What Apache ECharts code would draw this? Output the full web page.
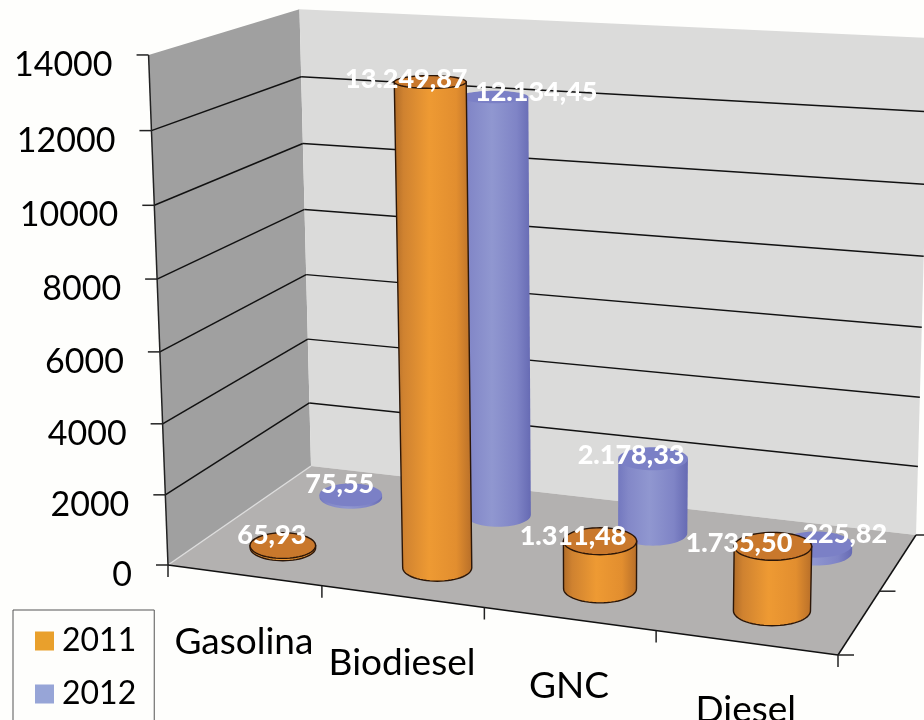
<!DOCTYPE html>
<html><head><meta charset="utf-8">
<style>html,body{margin:0;padding:0;background:#fefefc;overflow:hidden}#c{width:924px;height:720px}</style>
<script src="https://cdn.jsdelivr.net/npm/echarts@6/dist/echarts.min.js"></script>
</head><body><div id="c"></div>
<script>
const categories = ['Gasolina','Biodiesel','GNC','Diesel'];
const values2011 = [65.93, 13249.87, 1311.48, 1735.50];
const values2012 = [75.55, 12134.45, 2178.33, 225.82];
const yTicks = [0,2000,4000,6000,8000,10000,12000,14000];
const yMax = 14000;

// styling / camera
const FONT='Lato';
const floorQuad=[[168,565],[838,655],[916,535],[311,466]]; // front-left, front-right, back-right, back-left
const vp=[600,11900], kv=-0.04306;
const RU=0.218, RV=0.12, UOFF=0.012;
const shift2011=[[-11,-10],[-24,-3],[-27,-5],[-34,-3]];
const shift2012=[[-11,-11],[42,-5],[-22,-3],[29,-10]];

const chart=echarts.init(document.getElementById('c'),null,{renderer:'canvas'});
const W=924,H=720;
function homog(){
  const [p0,p1,p2,p3]=floorQuad;
  const dx1=p1[0]-p2[0],dx2=p3[0]-p2[0],sx=p0[0]-p1[0]+p2[0]-p3[0];
  const dy1=p1[1]-p2[1],dy2=p3[1]-p2[1],sy=p0[1]-p1[1]+p2[1]-p3[1];
  const den=dx1*dy2-dx2*dy1;
  const g=(sx*dy2-dx2*sy)/den,h=(dx1*sy-sx*dy1)/den;
  return {a:p1[0]-p0[0]+g*p1[0],b:p3[0]-p0[0]+h*p3[0],c:p0[0],
          d:p1[1]-p0[1]+g*p1[1],e:p3[1]-p0[1]+h*p3[1],f:p0[1],g,h};
}
const M=homog();
// u: category position (0..n), v: depth (0..1), t: 0..1 height fraction taken from the value axis
function project(u,v,t0){
  const s=u/categories.length;
  const t=t0*(1-0.012*s*v);
  const x=M.a*s+M.b*v+M.c+t*kv*vp[0];
  const y=M.d*s+M.e*v+M.f+t*kv*vp[1];
  const w=M.g*s+M.h*v+1+t*kv;
  return [x/w,y/w];
}
function heightOf(api,val){return 1-api.coord([0,val])[1]/H;}
function line(a,b,color,width){return {type:'line',shape:{x1:a[0],y1:a[1],x2:b[0],y2:b[1]},style:{stroke:color,lineWidth:width}};}
function poly(points,fill,extra){return Object.assign({type:'polygon',shape:{points},style:{fill}},extra||{});}

function renderFrame(params,api){
  const n=categories.length,ch=[];
  const tt=heightOf(api,yMax);
  const fl=project(0,0,0),fr=project(n,0,0),br=project(n,1,0),bl=project(0,1,0);
  const flt=project(0,0,tt),brt=project(n,1,tt),blt=project(0,1,tt);
  ch.push(poly([fl,bl,blt,flt],'#a0a0a0'));
  ch.push(poly([bl,br,brt,blt],'#dbdbda'));
  ch.push(poly([fl,fr,br,bl],'#b3b1b0'));
  ch.push(line(fl,bl,'#dcdcdc',1.5));
  yTicks.forEach(v=>{
    const t=heightOf(api,v);
    const a=project(0,0,t),b=project(0,1,t),c=project(n,1,t);
    if(v>0&&v<yMax){ch.push(line(a,b,'#111',1.5));ch.push(line(b,c,'#111',1.5));}
    ch.push(line([a[0]-12,a[1]],a,'#222',1.5));
    ch.push({type:'text',style:{text:String(v),x:a[0]-36,y:a[1]+10,align:'right',verticalAlign:'middle',
      fontFamily:FONT,fontSize:34,fill:'#000'}});
  });
  ch.push(line(fl,flt,'#222',1.5));
  ch.push(line(fl,fr,'#111',1.5));
  ch.push(line(fr,br,'#111',1.5));
  for(let i=0;i<=n;i++){const p=project(i,0,0);ch.push(line(p,[p[0],p[1]+12],'#222',1.5));}
  [0,0.5,1].forEach(v=>{const p=project(n,v,0);ch.push(line(p,[p[0]+16,p[1]],'#222',1.5));});
  categories.forEach((c,i)=>{
    const p=project(i+0.5,0,0);
    ch.push({type:'text',style:{text:c,x:p[0],y:p[1]+67,align:'center',verticalAlign:'middle',
      fontFamily:FONT,fontSize:37,fill:'#000'}});
  });
  return {type:'group',children:ch};
}
function ellipsePoints(u,depth,t,from,to,count){
  const c=project(u,depth,t);
  const rx=Math.abs(project(u+RU,depth,t)[0]-project(u-RU,depth,t)[0])/2;
  const ry=Math.abs(project(u,depth+RV,t)[1]-project(u,depth-RV,t)[1])/2;
  const pts=[];
  for(let k=0;k<=count;k++){
    const a=from+(to-from)*k/count;
    pts.push([c[0]+rx*Math.cos(a),c[1]+ry*Math.sin(a)]);
  }
  return pts;
}
function makeCylinder(depth,shifts,stops,topFill,stroke){
  return function(params,api){
    const x=api.coord([api.value(0),0])[0];
    const u=x/W*categories.length+UOFF;
    const val=api.value(1);
    const t=heightOf(api,val);
    const arc=ellipsePoints(u,depth,0,0,Math.PI,30);
    const top=ellipsePoints(u,depth,t,0,Math.PI*2,60);
    const body=arc.concat([top[30],top[0]]);
    const xs=body.map(p=>p[0]);
    const minX=Math.min(...xs),maxX=Math.max(...xs);
    const grad=new echarts.graphic.LinearGradient(minX,0,maxX,0,stops,true);
    const stl=stroke?{stroke:stroke,lineWidth:1.4}:{};
    const ch=[
      {type:'polygon',shape:{points:body},style:Object.assign({fill:grad},stl)},
      {type:'polygon',shape:{points:top},style:Object.assign({fill:topFill},stl)}
    ];
    const c=project(u,depth,t),sh=shifts[params.dataIndex];
    const lab=val.toFixed(2).replace('.',',').replace(/\B(?=(\d{3})+(?!\d))/g,'.');
    ch.push({type:'text',z2:100,style:{text:lab,x:c[0]+sh[0],y:c[1]+sh[1],align:'center',verticalAlign:'middle',
      fontFamily:FONT,fontWeight:900,fontSize:27,fill:'#fff'}});
    return {type:'group',children:ch};
  };
}
const orangeStops=[{offset:0,color:'#b06c28'},{offset:.12,color:'#cf8230'},{offset:.45,color:'#ee9a33'},{offset:.8,color:'#e28e2f'},{offset:1,color:'#b86f29'}];
const blueStops=[{offset:0,color:'#7378bf'},{offset:.15,color:'#8388c8'},{offset:.45,color:'#9097d0'},{offset:.8,color:'#7f84c6'},{offset:1,color:'#666ab3'}];
const toData=a=>a.map((v,i)=>[i,v]);
chart.setOption({
  animation:false,
  backgroundColor:'#fefefc',
  grid:{left:0,right:0,top:0,bottom:0},
  xAxis:{type:'category',data:categories,show:false},
  yAxis:{type:'value',min:0,max:yMax,interval:2000,show:false},
  legend:{left:13,top:610,height:200,orient:'vertical',padding:[15,18,60,22],itemGap:21,itemWidth:19,itemHeight:19,
    borderColor:'#555',borderWidth:1,backgroundColor:'#fefefc',selectedMode:false,
    textStyle:{fontFamily:FONT,fontSize:32,color:'#000',padding:[0,0,0,3]},
    data:[{name:'2011',icon:'rect'},{name:'2012',icon:'rect'}]},
  series:[
    {type:'custom',name:'frame',data:[[0,0]],renderItem:renderFrame,silent:true,z:1},
    {type:'custom',name:'2012',data:toData(values2012),renderItem:makeCylinder(0.75,shift2012,blueStops,'#7b80c6',null),itemStyle:{color:'#97a5d7'},z:2},
    {type:'custom',name:'2011',data:toData(values2011),renderItem:makeCylinder(0.25,shift2011,orangeStops,'#c9782c','#2b1608'),itemStyle:{color:'#e9a02c'},z:2}
  ]
});
</script></body></html>
